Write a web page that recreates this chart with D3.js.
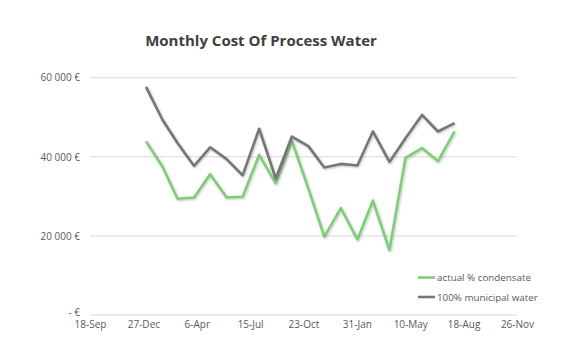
<!DOCTYPE html>
<html><head><meta charset="utf-8">
<script src="https://cdn.jsdelivr.net/npm/d3@7"></script>
<style>body{margin:0;background:#fff}svg{display:block}</style>
</head><body>
<svg id="c" width="570" height="358"></svg>
<script>
const months = ["2019-01","2019-02","2019-03","2019-04","2019-05","2019-06","2019-07","2019-08","2019-09","2019-10","2019-11","2019-12","2020-01","2020-02","2020-03","2020-04","2020-05","2020-06","2020-07","2020-08"];
const condensate = [43900,37500,29400,29700,35600,29700,29900,40500,33300,44100,32000,19800,27000,19100,28900,16400,39700,42200,38900,46400];
const municipal = [57700,49300,43500,37700,42400,39400,35300,47100,34500,45100,42700,37300,38200,37800,46400,38700,44700,50600,46400,48500];
const xTickLabels = ["18-Sep","27-Dec","6-Apr","15-Jul","23-Oct","31-Jan","10-May","18-Aug","26-Nov"];
const yTicks = [0,20000,40000,60000];
const seriesNames = ["actual % condensate","100% municipal water"];

const svg = d3.select("#c");
const parseM = d3.timeParse("%Y-%m");
const parseD = d3.timeParse("%Y-%m-%d");
const start = parseD("2018-09-18");
const tickDates = xTickLabels.map((_, i) => d3.timeDay.offset(start, i * 100));
const x = d3.scaleTime().domain([tickDates[0], tickDates[tickDates.length-1]]).range([90, 517]);
const y = d3.scaleLinear().domain([0, 60000]).range([315, 77.7]);

const fmt = v => v === 0 ? "- €" : d3.format(",")(v).replace(/,/g, " ") + " €";

// grid
svg.append("g").selectAll("line").data(yTicks).join("line")
  .attr("x1", 90).attr("x2", 517)
  .attr("y1", d => y(d)).attr("y2", d => y(d))
  .attr("stroke", "#d9d9d9").attr("stroke-width", 1);

// y axis
const yAxis = svg.append("g").attr("transform", "translate(90,0)")
  .call(d3.axisLeft(y).tickValues(yTicks).tickFormat(fmt).tickSize(0).tickPadding(10));
yAxis.select(".domain").remove();
yAxis.selectAll("text").attr("fill", "#595959").style("font-family", "'Open Sans', sans-serif").style("font-size", "10px");
yAxis.selectAll(".tick").filter(d => d === 0).select("text").attr("dy", "0.05em");

// x axis
const xAxis = svg.append("g").attr("transform", "translate(0,315)")
  .call(d3.axisBottom(x).tickValues(tickDates).tickFormat((d, i) => xTickLabels[i]).tickSize(0).tickPadding(6));
xAxis.select(".domain").remove();
xAxis.selectAll("text").attr("fill", "#595959").style("font-family", "'Open Sans', sans-serif").style("font-size", "10px");

const dates = months.map(m => parseM(m));
const line = d3.line().x((d, i) => x(dates[i])).y(d => y(d));

const defs = svg.append("defs");
defs.append("filter").attr("id", "sh").attr("x", "-10%").attr("y", "-10%").attr("width", "120%").attr("height", "120%")
  .append("feDropShadow").attr("dx", 0.8).attr("dy", 1).attr("stdDeviation", 0.8).attr("flood-color", "#000").attr("flood-opacity", 0.25);

const colors = ["#7fcc78", "#767676"];
[condensate, municipal].forEach((s, k) => {
  svg.append("path").datum(s).attr("d", line)
    .attr("fill", "none").attr("stroke", colors[k]).attr("stroke-width", 2.6)
    .attr("stroke-linejoin", "round").attr("filter", "url(#sh)");
});

// legend
const lg = svg.append("g");
seriesNames.forEach((n, i) => {
  const yy = 277.5 + i * 19.5;
  lg.append("line").attr("x1", 418).attr("x2", 435).attr("y1", yy).attr("y2", yy)
    .attr("stroke", colors[i]).attr("stroke-width", 2.6);
  lg.append("text").attr("x", 437).attr("y", yy + 3.5).text(n)
    .attr("fill", "#595959").style("font-family", "'Open Sans', sans-serif").style("font-size", "9.8px");
});

// title
svg.append("text").attr("x", 261).attr("y", 46).attr("text-anchor", "middle")
  .text("Monthly Cost Of Process Water")
  .attr("fill", "#404040").style("font-family", "'Open Sans', sans-serif").style("font-weight", "bold").style("font-size", "15px");
</script>
</body></html>
